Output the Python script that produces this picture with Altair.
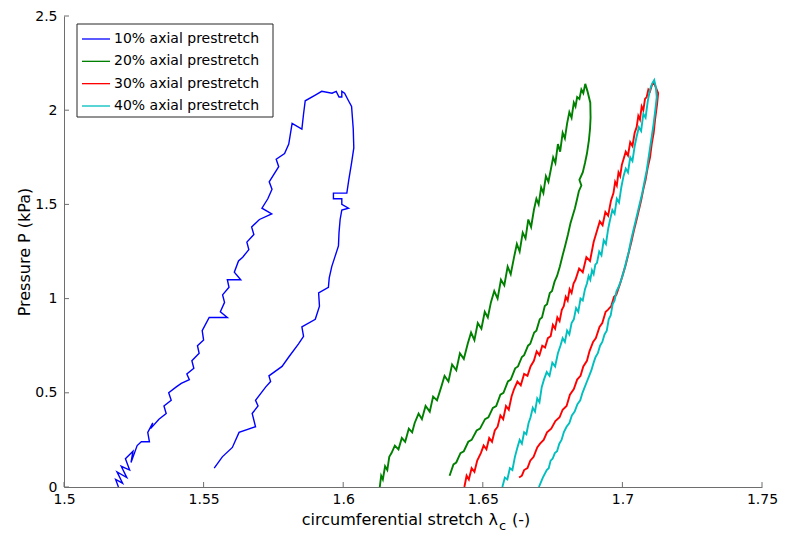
import altair as alt
import pandas as pd

series_labels = ["10% axial prestretch", "20% axial prestretch",
                 "30% axial prestretch", "40% axial prestretch"]
series_colors = ["#0000FF", "#008000", "#FF0000", "#00BFBF"]
series_widths = [1.4, 1.9, 1.9, 1.9]

x_ticks = [1.5, 1.55, 1.6, 1.65, 1.7, 1.75]
y_ticks = [0, 0.5, 1, 1.5, 2, 2.5]

# (circumferential stretch, pressure kPa)
blue = [(1.5195,0.00),(1.5185,0.04),(1.5210,0.02),(1.5190,0.08),(1.5225,0.05),(1.5205,0.11),(1.5235,0.09),(1.5220,0.15),
        (1.5247,0.19),(1.5240,0.13),(1.5262,0.22),(1.5277,0.24),(1.5306,0.24),(1.5300,0.29),(1.5318,0.34),(1.5310,0.31),
        (1.5340,0.36),(1.5366,0.39),(1.5358,0.43),(1.5384,0.46),(1.5375,0.50),(1.5401,0.53),(1.5420,0.55),(1.5449,0.57),
        (1.5440,0.60),(1.5465,0.63),(1.5458,0.67),(1.5484,0.71),(1.5478,0.75),(1.5500,0.78),(1.5495,0.83),(1.5520,0.90),
        (1.5585,0.90),(1.5560,0.93),(1.5575,0.98),(1.5568,1.02),(1.5591,1.06),(1.5585,1.10),(1.5633,1.10),(1.5610,1.14),
        (1.5625,1.20),(1.5640,1.22),(1.5662,1.26),(1.5655,1.30),(1.5680,1.34),(1.5672,1.38),(1.5700,1.42),(1.5744,1.45),
        (1.5709,1.48),(1.5730,1.53),(1.5745,1.58),(1.5735,1.62),(1.5769,1.70),(1.5760,1.74),(1.5790,1.77),(1.5805,1.82),
        (1.5817,1.93),(1.5852,1.90),(1.5858,1.98),(1.5864,2.05),(1.5900,2.08),(1.5923,2.10),(1.5960,2.09),(1.5975,2.10),
        (1.5985,2.07),(1.5995,2.07),(1.5995,2.10),(1.6005,2.09),(1.6019,2.05),(1.6030,2.02),(1.6036,1.90),(1.6038,1.80),
        (1.6030,1.72),(1.6020,1.63),(1.6013,1.56),(1.5965,1.56),(1.5965,1.53),(1.5995,1.53),(1.5995,1.50),(1.6019,1.48),
        (1.5995,1.47),(1.5989,1.42),(1.5985,1.35),(1.5983,1.28),(1.5970,1.22),(1.5959,1.17),(1.5950,1.11),(1.5947,1.06),
        (1.5912,1.03),(1.5915,0.96),(1.5900,0.89),(1.5852,0.85),(1.5858,0.80),(1.5840,0.76),(1.5805,0.69),(1.5781,0.64),
        (1.5734,0.59),(1.5740,0.56),(1.5722,0.53),(1.5686,0.46),(1.5695,0.43),(1.5674,0.39),(1.5686,0.32),(1.5627,0.29),
        (1.5603,0.21),(1.5567,0.16),(1.5538,0.10)]

green = [(1.6131,0.00),(1.6136,0.06),(1.6142,0.04),(1.6150,0.11),(1.6158,0.09),(1.6165,0.16),(1.6173,0.18),(1.6185,0.22),
         (1.6198,0.20),(1.6210,0.26),(1.6222,0.24),(1.6235,0.31),(1.6247,0.29),(1.6256,0.34),(1.6270,0.39),(1.6282,0.36),
         (1.6295,0.43),(1.6310,0.40),(1.6322,0.48),(1.6336,0.46),(1.6351,0.53),(1.6363,0.59),(1.6377,0.56),(1.6390,0.65),
         (1.6405,0.62),(1.6418,0.71),(1.6432,0.68),(1.6446,0.76),(1.6458,0.82),(1.6470,0.78),(1.6482,0.87),(1.6495,0.84),
         (1.6507,0.93),(1.6518,0.90),(1.6529,0.98),(1.6541,1.04),(1.6553,1.00),(1.6565,1.10),(1.6577,1.07),(1.6589,1.17),
         (1.6600,1.13),(1.6612,1.22),(1.6622,1.29),(1.6632,1.25),(1.6643,1.35),(1.6653,1.32),(1.6663,1.42),(1.6673,1.38),
         (1.6683,1.47),(1.6692,1.53),(1.6700,1.50),(1.6709,1.59),(1.6717,1.56),(1.6726,1.65),(1.6735,1.62),(1.6743,1.68),
         (1.6752,1.75),(1.6760,1.72),(1.6769,1.82),(1.6777,1.78),(1.6786,1.88),(1.6794,1.85),(1.6802,1.93),(1.6810,1.99),
         (1.6818,1.96),(1.6826,2.04),(1.6832,2.02),(1.6838,2.07),(1.6846,2.06),(1.6853,2.11),(1.6860,2.09),(1.6867,2.14),
         (1.6875,2.10),(1.6885,2.04),(1.6886,1.96),(1.6884,1.90),(1.6880,1.84),(1.6873,1.77),(1.6866,1.72),(1.6858,1.67),
         (1.6846,1.63),(1.6853,1.60),(1.6844,1.57),(1.6838,1.53),(1.6830,1.48),(1.6822,1.44),(1.6814,1.40),(1.6805,1.34),
         (1.6795,1.28),(1.6786,1.23),(1.6776,1.17),(1.6766,1.12),(1.6757,1.09),(1.6748,1.04),(1.6740,1.03),(1.6730,0.97),
         (1.6722,0.96),(1.6712,0.90),(1.6704,0.89),(1.6692,0.83),(1.6684,0.82),(1.6670,0.76),(1.6662,0.75),(1.6648,0.70),
         (1.6640,0.69),(1.6626,0.64),(1.6616,0.63),(1.6600,0.57),(1.6590,0.56),(1.6574,0.50),(1.6563,0.49),(1.6548,0.43),
         (1.6536,0.42),(1.6520,0.37),(1.6508,0.36),(1.6490,0.31),(1.6478,0.30),(1.6460,0.25),(1.6448,0.24),(1.6432,0.19),
         (1.6420,0.18),(1.6405,0.13),(1.6395,0.12),(1.6381,0.06)]

red = [(1.6434,0.00),(1.6442,0.06),(1.6450,0.04),(1.6460,0.10),(1.6470,0.08),(1.6480,0.14),(1.6493,0.18),(1.6503,0.22),
       (1.6513,0.20),(1.6523,0.26),(1.6533,0.24),(1.6543,0.30),(1.6553,0.32),(1.6563,0.38),(1.6573,0.36),(1.6583,0.43),
       (1.6593,0.41),(1.6603,0.48),(1.6612,0.52),(1.6624,0.56),(1.6636,0.54),(1.6648,0.60),(1.6660,0.59),(1.6671,0.64),
       (1.6683,0.67),(1.6693,0.72),(1.6703,0.70),(1.6713,0.75),(1.6723,0.74),(1.6733,0.79),(1.6743,0.80),(1.6751,0.86),
       (1.6759,0.84),(1.6767,0.90),(1.6775,0.88),(1.6783,0.94),(1.6790,0.96),(1.6797,1.01),(1.6804,0.99),(1.6811,1.05),
       (1.6818,1.03),(1.6825,1.08),(1.6832,1.10),(1.6845,1.16),(1.6858,1.14),(1.6871,1.22),(1.6884,1.20),(1.6897,1.30),
       (1.6909,1.36),(1.6919,1.41),(1.6929,1.39),(1.6939,1.46),(1.6949,1.44),(1.6959,1.52),(1.6968,1.56),(1.6974,1.62),
       (1.6980,1.60),(1.6986,1.67),(1.6992,1.65),(1.6998,1.71),(1.7004,1.74),(1.7012,1.78),(1.7020,1.76),(1.7028,1.83),
       (1.7036,1.81),(1.7044,1.88),(1.7051,1.91),(1.7057,1.97),(1.7063,1.95),(1.7069,2.02),(1.7075,2.00),(1.7081,2.06),
       (1.7087,2.07),(1.7093,2.11),(1.7099,2.10),(1.7105,2.13),(1.7112,2.15),(1.7120,2.12),(1.7128,2.09),(1.7124,2.03),
       (1.7117,1.95),(1.7112,1.88),(1.7105,1.82),(1.7099,1.75),(1.7090,1.69),(1.7083,1.63),(1.7075,1.58),(1.7067,1.52),
       (1.7059,1.47),(1.7051,1.42),(1.7041,1.36),(1.7032,1.30),(1.7022,1.24),(1.7012,1.18),(1.7002,1.13),(1.6992,1.08),
       (1.6978,1.02),(1.6970,1.01),(1.6960,0.96),(1.6948,0.94),(1.6940,0.93),(1.6928,0.87),(1.6918,0.85),(1.6905,0.79),
       (1.6895,0.77),(1.6882,0.72),(1.6873,0.67),(1.6860,0.64),(1.6850,0.59),(1.6838,0.57),(1.6826,0.52),(1.6812,0.49),
       (1.6800,0.43),(1.6786,0.41),(1.6775,0.37),(1.6760,0.35),(1.6745,0.31),(1.6730,0.29),(1.6718,0.25),(1.6705,0.23),
       (1.6695,0.21),(1.6682,0.16),(1.6670,0.14),(1.6660,0.10),(1.6648,0.09),(1.6640,0.06),(1.6630,0.05)]

cyan = [(1.6570,0.00),(1.6579,0.05),(1.6588,0.04),(1.6597,0.10),(1.6606,0.09),(1.6615,0.16),(1.6624,0.21),(1.6632,0.25),
        (1.6640,0.23),(1.6648,0.29),(1.6656,0.28),(1.6664,0.34),(1.6671,0.37),(1.6679,0.42),(1.6687,0.40),(1.6695,0.47),
        (1.6703,0.45),(1.6711,0.53),(1.6719,0.57),(1.6729,0.61),(1.6739,0.59),(1.6749,0.66),(1.6759,0.64),(1.6769,0.71),
        (1.6778,0.75),(1.6786,0.79),(1.6794,0.77),(1.6802,0.83),(1.6810,0.81),(1.6818,0.87),(1.6826,0.89),(1.6834,0.95),
        (1.6842,0.93),(1.6850,1.00),(1.6858,0.99),(1.6866,1.05),(1.6873,1.08),(1.6879,1.12),(1.6885,1.10),(1.6891,1.15),
        (1.6897,1.13),(1.6903,1.18),(1.6909,1.19),(1.6917,1.25),(1.6925,1.23),(1.6933,1.31),(1.6941,1.29),(1.6949,1.37),
        (1.6956,1.42),(1.6964,1.47),(1.6972,1.45),(1.6980,1.53),(1.6988,1.51),(1.6996,1.59),(1.7004,1.65),(1.7012,1.69),
        (1.7020,1.67),(1.7028,1.75),(1.7036,1.73),(1.7044,1.81),(1.7051,1.86),(1.7059,1.91),(1.7067,1.89),(1.7075,1.98),
        (1.7083,1.96),(1.7091,2.05),(1.7099,2.11),(1.7106,2.14),(1.7114,2.16),(1.7120,2.12),(1.7123,2.07),(1.7117,1.99),
        (1.7111,1.92),(1.7105,1.86),(1.7099,1.80),(1.7093,1.74),(1.7087,1.68),(1.7079,1.62),(1.7071,1.56),(1.7063,1.51),
        (1.7055,1.46),(1.7047,1.41),(1.7039,1.36),(1.7031,1.31),(1.7023,1.25),(1.7016,1.21),(1.7006,1.15),(1.6996,1.10),
        (1.6986,1.06),(1.6979,1.04),(1.6972,0.99),(1.6965,0.97),(1.6958,0.91),(1.6951,0.89),(1.6944,0.83),(1.6936,0.81),
        (1.6928,0.77),(1.6920,0.75),(1.6912,0.71),(1.6904,0.69),(1.6897,0.66),(1.6889,0.62),(1.6881,0.59),(1.6873,0.56),
        (1.6865,0.53),(1.6857,0.50),(1.6849,0.46),(1.6839,0.44),(1.6829,0.40),(1.6819,0.38),(1.6810,0.34),(1.6800,0.32),
        (1.6790,0.29),(1.6782,0.25),(1.6774,0.23),(1.6766,0.19),(1.6758,0.18),(1.6750,0.15),(1.6743,0.14),(1.6736,0.10),
        (1.6729,0.09),(1.6715,0.05),(1.6701,0.00)]

all_series = [blue, green, red, cyan]

W, H = 698, 471
FONT = "DejaVu Sans"
GRAY = "#6e6e6e"

xs = alt.Scale(domain=[1.5, 1.75], nice=False, zero=False)
ys = alt.Scale(domain=[0, 2.5], nice=False, zero=True)
x_axis = alt.Axis(values=x_ticks, format=".2~f", title=None, ticks=False, grid=False,
                  labelPadding=5, domainColor=GRAY, labelFont=FONT, labelFontSize=14,
                  labelColor="black", labelFlush=False)
y_axis = alt.Axis(values=y_ticks, format=".1~f", title="Pressure P (kPa)", ticks=False, grid=False,
                  labelPadding=7, domainColor=GRAY, labelFont=FONT, labelFontSize=14,
                  labelColor="black", titleFont=FONT, titleFontSize=16, titleFontWeight="normal",
                  titleColor="black", titlePadding=2, labelFlush=False)

layers = []
for pts, lab, col, sw in zip(all_series, series_labels, series_colors, series_widths):
    df = pd.DataFrame(pts, columns=["stretch", "pressure"])
    df["i"] = range(len(df))
    layers.append(
        alt.Chart(df).mark_line(color=col, strokeWidth=sw, clip=True).encode(
            x=alt.X("stretch:Q", scale=xs, axis=x_axis),
            y=alt.Y("pressure:Q", scale=ys, axis=y_axis),
            order="i:Q",
        )
    )

xt = alt.Chart(pd.DataFrame({"t": x_ticks})).mark_rule(color=GRAY, strokeWidth=1).encode(
    x=alt.X("t:Q", scale=xs, axis=x_axis), y=alt.value(H), y2=alt.value(H - 5))
yt = alt.Chart(pd.DataFrame({"t": y_ticks})).mark_rule(color=GRAY, strokeWidth=1).encode(
    y=alt.Y("t:Q", scale=ys, axis=y_axis), x=alt.value(0), x2=alt.value(5))

one = pd.DataFrame({"a": [0]})
t1 = alt.Chart(one).mark_text(align="right", baseline="alphabetic", font=FONT, fontSize=16, color="black").encode(
    x=alt.value(434), y=alt.value(509), text=alt.value("circumferential stretch λ"))
t2 = alt.Chart(one).mark_text(align="left", baseline="alphabetic", font=FONT, fontSize=13, color="black").encode(
    x=alt.value(435), y=alt.value(514), text=alt.value("c"))
t3 = alt.Chart(one).mark_text(align="left", baseline="alphabetic", font=FONT, fontSize=16, color="black").encode(
    x=alt.value(448), y=alt.value(509), text=alt.value("(-)"))

main = alt.layer(*layers, xt, yt, t1, t2, t3)

leg_df = pd.DataFrame({"label": series_labels, "row": [0, 1, 2, 3]})
row_scale = alt.Scale(domain=[0, 3], range=[23, 90])
box = alt.Chart(one).mark_rect(fill="white", stroke="#262626", strokeWidth=1).encode(
    x=alt.value(13), x2=alt.value(209), y=alt.value(8), y2=alt.value(101))
leg_lines = alt.Chart(leg_df).mark_rule(strokeWidth=1.3).encode(
    x=alt.value(18), x2=alt.value(46),
    y=alt.Y("row:Q", scale=row_scale, axis=None),
    color=alt.Color("label:N", scale=alt.Scale(domain=series_labels, range=series_colors), legend=None))
leg_text = alt.Chart(leg_df).mark_text(align="left", baseline="middle", font=FONT, fontSize=14, color="black").encode(
    x=alt.value(50), y=alt.Y("row:Q", scale=row_scale, axis=None), text="label:N")
legend = alt.layer(box, leg_lines, leg_text)

chart = alt.layer(main, legend).resolve_scale(y="independent").properties(
    width=W, height=H,
    autosize=alt.AutoSizeParams(type="none"),
    padding={"left": 56, "top": 8, "right": 16, "bottom": 45},
    background="white",
).configure_view(stroke=None)

chart.save("out.html", embed_options={"renderer": "svg", "actions": False})
